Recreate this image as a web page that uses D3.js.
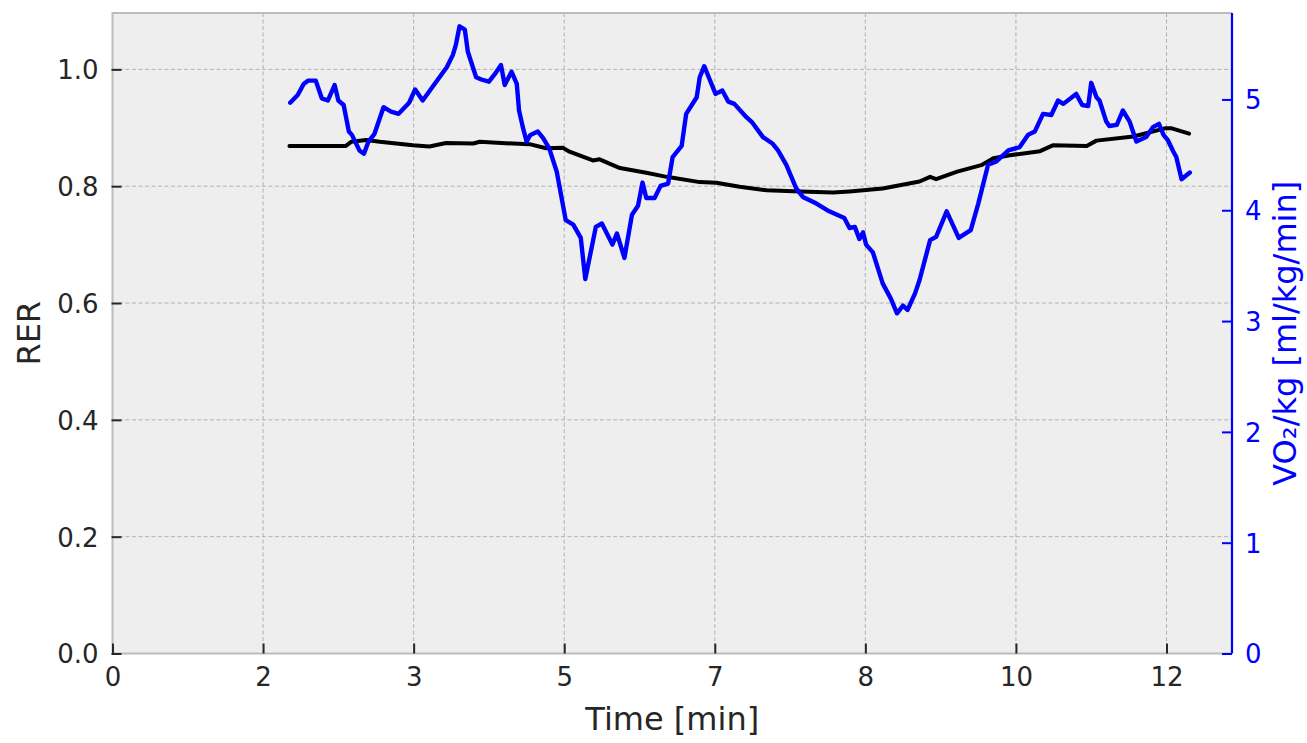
<!DOCTYPE html>
<html>
<head>
<meta charset="utf-8">
<script src="https://cdn.jsdelivr.net/npm/d3@7"></script>
<style>
  html, body { margin: 0; padding: 0; background: #ffffff; }
  svg { display: block; font-family: "DejaVu Sans", sans-serif; }
</style>
</head>
<body>
<svg id="chart" width="1307" height="743"></svg>
<script>
// Time axis values are in seconds; tick labels show rounded minutes.
const xTickSeconds = [0, 100, 200, 300, 400, 500, 600, 700];
const rerTicks = [0.0, 0.2, 0.4, 0.6, 0.8, 1.0];
const vo2Ticks = [0, 1, 2, 3, 4, 5];

// Respiratory exchange ratio (left axis)
const rerTime = [117.5,155,158.5,168.5,177.5,199.5,210.5,221.5,239.5,244,266,277,288,299,303.5,
  319,323.5,337,354.5,368,390,401,416.5,434.5,456.5,478.5,489.5,511.5,536,543,547,561,577,585,596,
  616,624.5,647,653.5,678,699,703.5,715];
const rerValues = [0.869,0.869,0.876,0.879,0.876,0.870,0.868,0.874,0.873,0.876,0.873,0.872,0.865,0.866,0.859,
  0.844,0.846,0.831,0.823,0.816,0.807,0.806,0.799,0.793,0.791,0.789,0.791,0.796,0.808,0.816,0.812,0.825,0.836,0.848,0.853,
  0.860,0.870,0.869,0.878,0.885,0.899,0.899,0.890];

// Relative oxygen uptake, ml/kg/min (right axis)
const vo2Time = [118,123,127,130,135,139,143,147.5,150,153.5,157,159,164,167,170,174,180,185,190,197,
  201,206,215,222,226,228,230.5,234,236,241.5,245,250,254,258,260.5,265,268.5,270,272.5,275,
  277.5,282.5,286,290,295,301,306,311,314,321,325,332,335,340,345,349,352,354.5,360,364,
  369,372,378,381,388,390,393,396,400.5,405,409,413,421,425,432,438.5,442,447.5,454,458.5,
  467.5,476,486,489.5,493,496,498.5,500.5,505,511.5,517,521,525,528,533,536,543,547,554,562,
  570,575,581.5,587,595,602.5,608,612.5,618,623.5,628,631.5,640,644,648,650,653.5,655.5,660,662,
  667,671,675.5,680,686.5,691,695,698,701,704.5,706.5,710,715.5];
const vo2Values = [4.97,5.04,5.14,5.17,5.17,5.01,4.99,5.13,4.99,4.95,4.71,4.68,4.54,4.51,4.62,4.69,4.93,4.89,4.87,4.97,
  5.09,4.99,5.16,5.29,5.40,5.49,5.66,5.63,5.43,5.20,5.18,5.16,5.23,5.31,5.13,5.25,5.14,4.90,4.75,4.62,
  4.68,4.71,4.65,4.56,4.35,3.91,3.87,3.75,3.38,3.85,3.88,3.69,3.79,3.57,3.96,4.04,4.25,4.11,4.11,4.22,
  4.24,4.48,4.58,4.87,5.02,5.20,5.30,5.20,5.05,5.08,4.98,4.96,4.84,4.79,4.66,4.60,4.54,4.41,4.20,4.12,
  4.06,3.99,3.93,3.84,3.85,3.74,3.80,3.69,3.62,3.34,3.20,3.07,3.14,3.10,3.25,3.37,3.73,3.76,3.99,3.75,
  3.82,4.06,4.41,4.44,4.54,4.57,4.68,4.71,4.87,4.86,4.99,4.96,5.05,4.95,4.94,5.15,5.02,4.99,4.80,4.76,
  4.77,4.90,4.80,4.62,4.66,4.75,4.78,4.68,4.63,4.53,4.48,4.28,4.34];

const plot = { left: 112.5, right: 1232, top: 13, bottom: 653.5 };
const svg = d3.select("#chart");

const x = d3.scaleLinear().domain([0, 743.5]).range([plot.left, plot.right]);
const yL = d3.scaleLinear().domain([0, 1.0965]).range([plot.bottom, plot.top]);
const yR = d3.scaleLinear().domain([0, 5.78]).range([plot.bottom, plot.top]);

const gridColor = "#b2b2b2";
const frameColor = "#bcbcbc";
const textColor = "#262626";
const blue = "#0000ff";

// Plot background
svg.append("rect")
  .attr("x", plot.left).attr("y", plot.top)
  .attr("width", plot.right - plot.left).attr("height", plot.bottom - plot.top)
  .attr("fill", "#eeeeee");

// Dashed grid
const grid = svg.append("g");
grid.selectAll("line.v").data(xTickSeconds).join("line")
  .attr("x1", d => x(d)).attr("x2", d => x(d))
  .attr("y1", plot.top).attr("y2", plot.bottom)
  .attr("stroke", gridColor).attr("stroke-width", 1).attr("stroke-dasharray", "4,2.5");
grid.selectAll("line.h").data(rerTicks.filter(d => d > 0)).join("line")
  .attr("x1", plot.left).attr("x2", plot.right)
  .attr("y1", d => yL(d)).attr("y2", d => yL(d))
  .attr("stroke", gridColor).attr("stroke-width", 1).attr("stroke-dasharray", "4,2.5");

// Frame (top, left, bottom in gray)
svg.append("path")
  .attr("d", `M${plot.right},${plot.top}H${plot.left}V${plot.bottom}H${plot.right}`)
  .attr("fill", "none").attr("stroke", frameColor).attr("stroke-width", 2);

// Series
const rerData = rerTime.map((t, i) => [t, rerValues[i]]);
const vo2Data = vo2Time.map((t, i) => [t, vo2Values[i]]);

svg.append("path")
  .datum(rerData)
  .attr("fill", "none").attr("stroke", "#000000").attr("stroke-width", 4)
  .attr("stroke-linejoin", "round").attr("stroke-linecap", "round")
  .attr("d", d3.line().x(d => x(d[0])).y(d => yL(d[1])));

svg.append("path")
  .datum(vo2Data)
  .attr("fill", "none").attr("stroke", blue).attr("stroke-width", 4.4)
  .attr("stroke-linejoin", "round").attr("stroke-linecap", "round")
  .attr("d", d3.line().x(d => x(d[0])).y(d => yR(d[1])));

// Bottom axis (ticks point inward)
const xAxis = d3.axisBottom(x).tickValues(xTickSeconds)
  .tickSize(-10).tickPadding(14)
  .tickFormat(d => String(Math.round(d / 60)));
const gx = svg.append("g").attr("transform", `translate(0,${plot.bottom})`).call(xAxis);
gx.select(".domain").remove();
gx.selectAll(".tick line").attr("stroke", textColor).attr("stroke-width", 2);
gx.selectAll(".tick text").attr("fill", textColor).attr("font-size", 26)
  .attr("font-family", "DejaVu Sans").attr("dy", "0.71em");

// Left axis
const yAxisL = d3.axisLeft(yL).tickValues(rerTicks)
  .tickSize(-10).tickPadding(13)
  .tickFormat(d3.format(".1f"));
const gyl = svg.append("g").attr("transform", `translate(${plot.left - 1},0)`).call(yAxisL);
gyl.select(".domain").remove();
gyl.selectAll(".tick line").attr("stroke", textColor).attr("stroke-width", 2);
gyl.selectAll(".tick text").attr("fill", textColor).attr("font-size", 26)
  .attr("font-family", "DejaVu Sans").attr("dy", "0.36em");

// Right axis in blue
const yAxisR = d3.axisRight(yR).tickValues(vo2Ticks)
  .tickSize(-10).tickPadding(13)
  .tickFormat(d3.format("d"));
const gyr = svg.append("g").attr("transform", `translate(${plot.right},0)`).call(yAxisR);
gyr.select(".domain").attr("stroke", blue).attr("stroke-width", 2.2)
  .attr("d", `M0,${plot.bottom}V${plot.top}`);
gyr.selectAll(".tick line").attr("stroke", blue).attr("stroke-width", 2);
gyr.selectAll(".tick text").attr("fill", blue).attr("font-size", 26)
  .attr("font-family", "DejaVu Sans").attr("dy", "0.36em");

// Axis titles
svg.append("text")
  .attr("x", (plot.left + plot.right) / 2).attr("y", 730)
  .attr("text-anchor", "middle").attr("font-size", 32).attr("fill", textColor)
  .text("Time [min]");

svg.append("text")
  .attr("transform", `translate(40,${(plot.top + plot.bottom) / 2}) rotate(-90)`)
  .attr("text-anchor", "middle").attr("font-size", 32).attr("fill", textColor)
  .text("RER");

svg.append("text")
  .attr("transform", `translate(1296,${(plot.top + plot.bottom) / 2}) rotate(-90)`)
  .attr("text-anchor", "middle").attr("font-size", 32).attr("fill", blue)
  .text("VO₂/kg [ml/kg/min]");
</script>
</body>
</html>
